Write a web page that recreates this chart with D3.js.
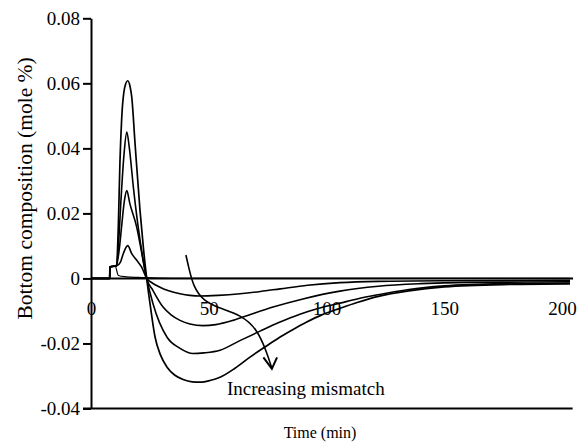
<!DOCTYPE html>
<html>
<head>
<meta charset="utf-8">
<script src="https://cdn.jsdelivr.net/npm/d3@7"></script>
<style>
  html, body { margin: 0; padding: 0; background: #fff; }
  svg { display: block; }
</style>
</head>
<body>
<script>
// ---- Data (time in min, bottom composition in mole %) ----
const xTicks = [0, 50, 100, 150, 200];
const xTickLabels = ["0", "50", "100", "150", "200"];
const yTicks = [-0.04, -0.02, 0, 0.02, 0.04, 0.06, 0.08];
const yTickLabels = ["-0.04", "-0.02", "0", "0.02", "0.04", "0.06", "0.08"];

// no mismatch (small disturbance that decays to zero)
const timeE  = [0, 7.95, 8, 10.3, 11.6, 15, 20, 29, 40, 203.4];
const valueE = [0, 0, 0.0035, 0.0037, 0.0009, 0.0005, 0.0003, 0.0001, 0, 0];

// mismatch level 1
const timeA  = [0, 7.95, 8, 10.8, 12.5, 13.7, 15.6, 17.3, 19.5, 21.5, 23.65, 26, 29.3, 33, 37.8, 42, 46.3, 54, 63.3, 72, 80.3, 92, 105.7, 122, 150, 203.4];
const valueA = [0, 0, 0.0035, 0.0038, 0.005, 0.0076, 0.0101, 0.0076, 0.0055, 0.0035, 0, -0.0014, -0.0027, -0.0038, -0.0047, -0.0052, -0.0054, -0.0052, -0.0047, -0.004, -0.0032, -0.0021, -0.0013, -0.0009, -0.0007, -0.0006];

// mismatch level 2
const timeB  = [0, 7.95, 8, 10.8, 12, 13, 14.2, 15.2, 16.5, 19.4, 21.5, 22.9, 23.65, 26.3, 30.6, 34, 37.8, 42, 47.6, 53, 60.3, 68, 77.3, 90, 105.7, 122, 140, 160, 185, 203.4];
const valueB = [0, 0, 0.0035, 0.004, 0.009, 0.016, 0.024, 0.027, 0.023, 0.0158, 0.008, 0.0025, 0, -0.0037, -0.0088, -0.0112, -0.0129, -0.014, -0.0145, -0.0142, -0.0129, -0.011, -0.0088, -0.0063, -0.0039, -0.0024, -0.0016, -0.0012, -0.0011, -0.001];

// mismatch level 3
const timeC  = [0, 7.95, 8, 10.8, 11.8, 12.8, 14, 15.2, 16.3, 18, 20, 22.2, 23.65, 26.3, 32.3, 37.8, 43.3, 48, 54.8, 63, 71.8, 80, 88.7, 96, 105.7, 113, 122, 135, 150, 175, 203.4];
const valueC = [0, 0, 0.0035, 0.004, 0.012, 0.025, 0.038, 0.045, 0.04, 0.028, 0.016, 0.0055, 0, -0.0077, -0.0181, -0.0215, -0.0231, -0.0229, -0.0221, -0.0192, -0.0162, -0.0135, -0.0110, -0.0093, -0.0076, -0.0063, -0.0050, -0.0034, -0.0023, -0.0016, -0.0014];

// mismatch level 4
const timeD  = [0, 7.95, 8, 10.8, 11.6, 12.3, 13, 14.4, 15.6, 16.6, 17.3, 18.7, 20.8, 22.3, 23.65, 25.3, 27.2, 29.5, 32.3, 35.5, 39.1, 43, 46.3, 50.5, 54.8, 61, 67.5, 74, 80.3, 86, 91.6, 98, 105.7, 113, 122, 135, 150, 175, 203.4];
const valueD = [0, 0, 0.0035, 0.004, 0.016, 0.036, 0.0487, 0.059, 0.0608, 0.059, 0.0558, 0.0415, 0.021, 0.009, 0, -0.009, -0.018, -0.0235, -0.0273, -0.0297, -0.0311, -0.0318, -0.0319, -0.0314, -0.0304, -0.0277, -0.0242, -0.021, -0.018, -0.0156, -0.0134, -0.0112, -0.0092, -0.0074, -0.0055, -0.0038, -0.0026, -0.0019, -0.0017];

// annotation arrow (data coordinates)
const arrowTime  = [40.3, 41.6, 43.5, 47.5, 55, 63.5, 70.5, 74.5, 76.8];
const arrowValue = [0.0072, 0.0030, -0.0025, -0.0068, -0.0093, -0.0112, -0.0155, -0.0225, -0.0276];
const arrowHeadTime  = [73.2, 76.8, 79.0];
const arrowHeadValue = [-0.0243, -0.0278, -0.0243];
const annotationText = "Increasing mismatch";
const annotationPos = [57.7, -0.0359];
const xAxisEnd = 204.7;

const W = 584, H = 448;
const FONT = '"Liberation Serif", "Times New Roman", serif';
const x = d3.scaleLinear().domain([0, 200]).range([91, 562]);
const y = d3.scaleLinear().domain([-0.04, 0.08]).range([408.5, 18.3]);

const svg = d3.select("body").append("svg").attr("width", W).attr("height", H);

// Bottom frame line (at -0.04)
svg.append("line")
  .attr("x1", x(0) - 8).attr("x2", x(xAxisEnd - 0.2))
  .attr("y1", y(-0.04)).attr("y2", y(-0.04))
  .attr("stroke", "#000").attr("stroke-width", 2);

// X axis line at zero
svg.append("line")
  .attr("x1", x(0)).attr("x2", x(xAxisEnd))
  .attr("y1", y(0)).attr("y2", y(0))
  .attr("stroke", "#000").attr("stroke-width", 2);

// X axis tick labels (no tick marks)
const xAxis = d3.axisBottom(x).tickValues(xTicks).tickSize(0).tickPadding(23)
  .tickFormat((d, i) => xTickLabels[i]);
const gx = svg.append("g").attr("transform", `translate(0,${y(0)})`).call(xAxis)
  .attr("font-family", null).attr("font-size", null);
gx.select(".domain").remove();
gx.selectAll("text").style("font-family", FONT).style("font-size", "19px").attr("fill", "#000");

// Y axis
const yAxis = d3.axisLeft(y).tickValues(yTicks).tickSize(8).tickSizeOuter(0).tickPadding(3)
  .tickFormat((d, i) => yTickLabels[i]);
const gy = svg.append("g").attr("transform", `translate(${x(0)},0)`).call(yAxis)
  .attr("font-family", null).attr("font-size", null);
gy.select(".domain").attr("stroke", "#000").attr("stroke-width", 2);
gy.selectAll(".tick line").attr("stroke", "#000").attr("stroke-width", 2);
gy.selectAll("text").style("font-family", FONT).style("font-size", "19px").attr("fill", "#000");

// Curves
const line = d3.line().x(d => x(d[0])).y(d => y(d[1])).curve(d3.curveMonotoneX);
const series = [
  { t: timeE, v: valueE, w: 1.2 },
  { t: timeA, v: valueA, w: 1.6 },
  { t: timeB, v: valueB, w: 1.6 },
  { t: timeC, v: valueC, w: 1.6 },
  { t: timeD, v: valueD, w: 1.7 }
];
series.forEach(s => {
  const pts = s.t.map((t, i) => [t, s.v[i]]);
  svg.append("path").datum(pts)
    .attr("d", line)
    .attr("fill", "none").attr("stroke", "#000")
    .attr("stroke-width", s.w).attr("stroke-linejoin", "round");
});

// Arrow
const arrowLine = d3.line().x(d => x(d[0])).y(d => y(d[1])).curve(d3.curveBasis);
svg.append("path").datum(arrowTime.map((t, i) => [t, arrowValue[i]]))
  .attr("d", arrowLine).attr("fill", "none").attr("stroke", "#000").attr("stroke-width", 1.6);
svg.append("path").datum(arrowHeadTime.map((t, i) => [t, arrowHeadValue[i]]))
  .attr("d", d3.line().x(d => x(d[0])).y(d => y(d[1])))
  .attr("fill", "none").attr("stroke", "#000").attr("stroke-width", 2).attr("stroke-linejoin", "miter");

// Annotation
svg.append("text")
  .attr("x", x(annotationPos[0])).attr("y", y(annotationPos[1]))
  .style("font-family", FONT).style("font-size", "19px")
  .text(annotationText);

// Axis titles
svg.append("text")
  .attr("transform", `translate(32,${(y(0.08) + y(-0.04)) / 2 - 25}) rotate(-90)`)
  .attr("text-anchor", "middle")
  .style("font-family", FONT).style("font-size", "21.5px")
  .text("Bottom composition (mole %)");
svg.append("text")
  .attr("x", 320).attr("y", 438)
  .attr("text-anchor", "middle")
  .style("font-family", FONT).style("font-size", "16px")
  .text("Time (min)");
</script>
</body>
</html>
